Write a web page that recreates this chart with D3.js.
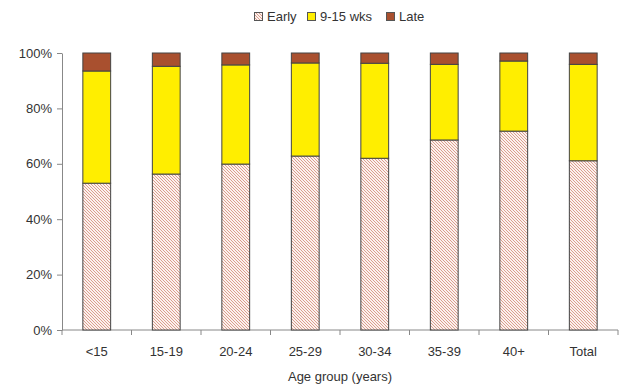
<!DOCTYPE html>
<html><head><meta charset="utf-8">
<script src="https://cdn.jsdelivr.net/npm/d3@7"></script>
<style>body{margin:0;background:#fff}svg{display:block}text{font-family:"Liberation Sans",Arial,sans-serif}</style>
</head><body>
<script>
const categories = ["<15","15-19","20-24","25-29","30-34","35-39","40+","Total"];
const early = [53.0, 56.3, 59.9, 62.8, 62.0, 68.6, 71.8, 61.1];
const mid   = [40.5, 38.9, 35.8, 33.6, 34.3, 27.3, 25.3, 34.8];
const late  = [6.5, 4.8, 4.3, 3.6, 3.7, 4.1, 2.9, 4.1];
const seriesNames = ["Early","9-15 wks","Late"];
const yTicks = [0,20,40,60,80,100];

const W=626,H=385;
const svg=d3.select("body").append("svg").attr("width",W).attr("height",H);
const defs=svg.append("defs");
const pat=defs.append("pattern").attr("id","hatch").attr("patternUnits","userSpaceOnUse")
  .attr("width",3).attr("height",3);
pat.append("rect").attr("width",3).attr("height",3).attr("fill","#fbf1ee");
pat.append("path").attr("d","M0,0L3,3M-1,2L1,4M2,-1L4,1").attr("stroke","#d89482").attr("stroke-width",0.9);

const fills=["url(#hatch)","#ffee00","#a9502f"];
const x=d3.scaleBand().domain(categories).range([62,618]).paddingInner(0.6).paddingOuter(0.3);
const y=d3.scaleLinear().domain([0,100]).range([330,53]);

const data=categories.map((c,i)=>({cat:c,Early:early[i],"9-15 wks":mid[i],Late:late[i]}));
const stack=d3.stack().keys(seriesNames)(data);

// axes
const gy=svg.append("g").attr("transform","translate(62,0)")
  .call(d3.axisLeft(y).tickValues(yTicks).tickFormat(d=>d+"%").tickSize(5).tickSizeOuter(0));
gy.select(".domain").attr("stroke","#888");
gy.selectAll(".tick line").attr("stroke","#888");
gy.selectAll(".tick text").attr("font-size",13).attr("fill","#333").attr("x",-10);

const xTickScale=d3.scaleLinear().domain([0,categories.length]).range([62,618]);
const gx=svg.append("g").attr("transform","translate(0,330)");
gx.append("line").attr("x1",62).attr("x2",618).attr("stroke","#888");
gx.selectAll("line.t").data(d3.range(categories.length+1)).join("line").attr("class","t")
  .attr("x1",d=>xTickScale(d)).attr("x2",d=>xTickScale(d)).attr("y1",0).attr("y2",5).attr("stroke","#888");
gx.selectAll("text").data(categories).join("text")
  .attr("x",d=>x(d)+x.bandwidth()/2).attr("y",26).attr("text-anchor","middle")
  .attr("font-size",13).attr("fill","#333").text(d=>d);

svg.append("text").attr("x",340).attr("y",381).attr("text-anchor","middle")
  .attr("font-size",13).attr("fill","#333").text("Age group (years)");

// bars
stack.forEach((s,si)=>{
  svg.append("g").selectAll("rect").data(s).join("rect")
    .attr("x",d=>x(d.data.cat)).attr("width",x.bandwidth())
    .attr("y",d=>y(d[1])).attr("height",d=>y(d[0])-y(d[1]))
    .attr("fill",fills[si]).attr("stroke","#444").attr("stroke-width",1);
});

// legend
const legX=[254,307,386];
const lg=svg.append("g");
seriesNames.forEach((n,i)=>{
  lg.append("rect").attr("x",legX[i]+0.5).attr("y",12.5).attr("width",8).attr("height",8)
    .attr("fill",fills[i]).attr("stroke","#555").attr("stroke-width",1);
  lg.append("text").attr("x",legX[i]+13).attr("y",21).attr("font-size",13).attr("fill","#333").text(n);
});
</script>
</body></html>
